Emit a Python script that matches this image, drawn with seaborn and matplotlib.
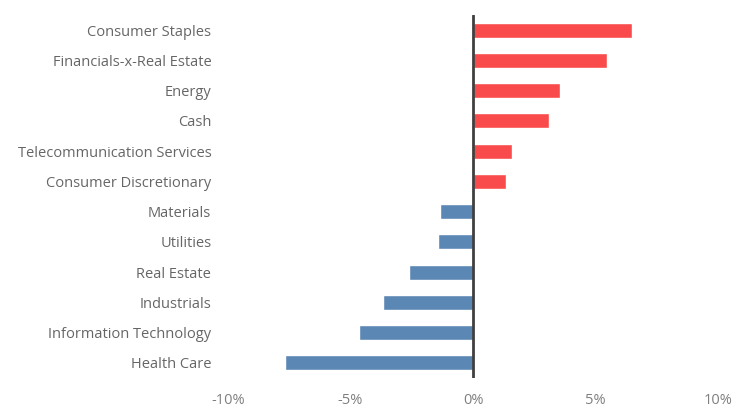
import matplotlib
matplotlib.use("Agg")
import matplotlib.pyplot as plt
import seaborn as sns
import pandas as pd

categories = ["Consumer Staples", "Financials-x-Real Estate", "Energy", "Cash",
              "Telecommunication Services", "Consumer Discretionary", "Materials",
              "Utilities", "Real Estate", "Industrials", "Information Technology",
              "Health Care"]
values = [6.5, 5.48, 3.53, 3.08, 1.57, 1.33, -1.33, -1.45, -2.63, -3.69, -4.67, -7.69]
tick_values = [-10, -5, 0, 5, 10]
tick_labels = ["-10%", "-5%", "0%", "5%", "10%"]

sns.set_theme(style="white")
plt.rcParams['font.family'] = ['Open Sans', 'DejaVu Sans']

df = pd.DataFrame({"category": categories, "value": values})
df["sign"] = ["pos" if v > 0 else "neg" for v in values]

fig = plt.figure(figsize=(7.45, 4.08), dpi=100)
ax = fig.add_axes([0.306, 0.0735, 0.658, 0.8897])
sns.barplot(data=df, x="value", y="category", hue="sign", order=categories,
            palette={"pos": "#F94B4B", "neg": "#5B87B4"}, width=0.5,
            dodge=False, legend=False, ax=ax, saturation=1)
ax.set_xlim(-10, 10)
ax.set_ylim(11.5, -0.5)
ax.set_xticks(tick_values)
ax.set_xticklabels(tick_labels)
ax.set_xlabel("")
ax.set_ylabel("")
for s in ax.spines.values():
    s.set_visible(False)
ax.axvline(0, color="#404040", lw=2, zorder=5)
ax.tick_params(axis="x", length=0, pad=11, labelsize=10.5, labelcolor="#7F7F7F")
ax.tick_params(axis="y", length=0, pad=12, labelsize=10.5, labelcolor="#666666")
fig.savefig("out.png", dpi=100)
